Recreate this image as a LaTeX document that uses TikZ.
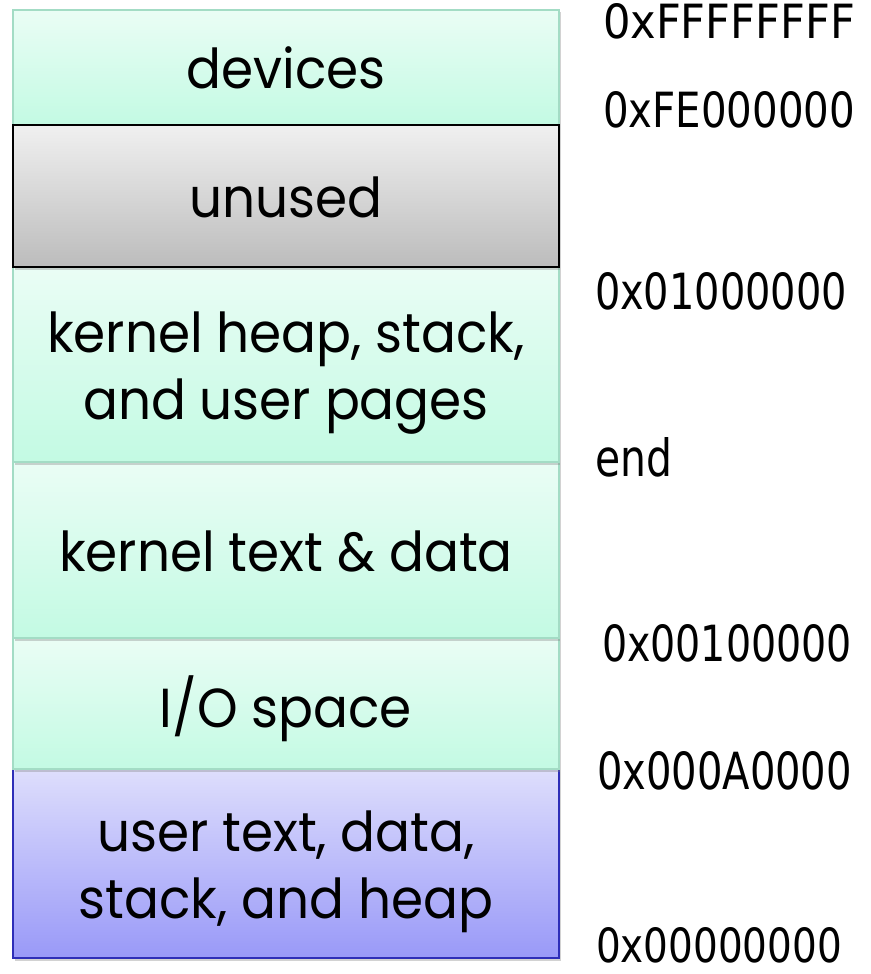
\documentclass[tikz,border=0pt]{standalone}
\usepackage{fontspec}
\usepackage{graphicx}
\usetikzlibrary{shadows}

\newfontfamily\regionfont{Poppins}
\newfontfamily\addrfont{DejaVu Sans}

% region label: slightly condensed, centred lines, drawn a little low in its box
\newcommand\regiontext[1]{\raisebox{-8pt}[\height][\depth]{\scalebox{0.94}[1]{\regionfont\fontsize{55}{67}\selectfont
  \begin{tabular}{@{}c@{}}#1\end{tabular}}}}
% address label fitted to a given width and height
\newcommand\addr[3]{\resizebox{#1}{#2}{\addrfont #3}}

\definecolor{kgreenTop}{HTML}{EAFDF5}
\definecolor{kgreenBot}{HTML}{C3FAE3}
\definecolor{kgreenLine}{HTML}{A3DCC5}
\definecolor{grayTop}{HTML}{F0F0F0}
\definecolor{grayBot}{HTML}{BCBCBC}
\definecolor{userTop}{HTML}{DEDEFC}
\definecolor{userBot}{HTML}{9999F8}
\definecolor{userLine}{HTML}{2E2EB8}

\tikzset{
  region/.style={anchor=north west, minimum width=546pt, inner sep=0pt, outer sep=0pt,
    line width=1.6pt, drop shadow={shadow xshift=1.5pt, shadow yshift=-2.5pt, opacity=0.35}},
  kernelregion/.style={region, draw=kgreenLine, top color=kgreenTop, bottom color=kgreenBot},
  unusedregion/.style={region, draw=black, top color=grayTop, bottom color=grayBot},
  userregion/.style={region, draw=userLine, top color=userTop, bottom color=userBot},
  addrlabel/.style={inner sep=0pt, outer sep=0pt},
}

\begin{document}
\begin{tikzpicture}[x=1pt, y=-1pt]
  \useasboundingbox[fill=white] (0,0) rectangle (870,974);

  % memory regions, drawn from the bottom up so each shadow falls on the region below
  \node[userregion, minimum height=189pt] (user) at (13,769)
    {\regiontext{user text, data,\\stack, and heap}};
  \node[kernelregion, minimum height=131pt] (io) at (13,638)
    {\regiontext{I/O space}};
  \node[kernelregion, minimum height=176pt] (ktext) at (13,462)
    {\regiontext{kernel text \& data}};
  \node[kernelregion, minimum height=195pt] (kheap) at (13,267)
    {\regiontext{kernel heap, stack,\\and user pages}};
  \node[kernelregion, minimum height=115pt] (dev) at (13,10)
    {\regiontext{devices}};
  \node[unusedregion, minimum height=142pt] (unused) at (13,125)
    {\regiontext{unused}};

  % addresses of the region boundaries
  \node[addrlabel, anchor=west] (aTop)   at (603,21)    {\addr{252pt}{35pt}{0xFFFFFFFF}};
  \node[addrlabel, anchor=west] (aDev)   at (603,110)   {\addr{252pt}{36pt}{0xFE000000}};
  \node[addrlabel, anchor=west] (aHeap)  at (595,291.5) {\addr{252pt}{37pt}{0x01000000}};
  \node[addrlabel, anchor=south west] (aEnd) at (595,477) {\addr{77pt}{39pt}{end}};
  \node[addrlabel, anchor=west] (aText)  at (602,643.5) {\addr{250pt}{37pt}{0x00100000}};
  \node[addrlabel, anchor=west] (aIO)    at (597,771)   {\addr{255pt}{38pt}{0x000A0000}};
  \node[addrlabel, anchor=west] (aZero)  at (596,945)   {\addr{246pt}{35pt}{0x00000000}};
\end{tikzpicture}
\end{document}
